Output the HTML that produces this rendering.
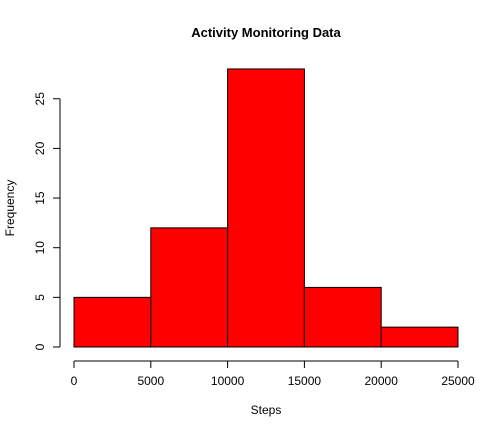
<!DOCTYPE html>
<html><head><meta charset="utf-8"><style>
body{margin:0;background:#fff}
svg{display:block;font-family:"Liberation Sans",Arial,sans-serif}
</style></head><body>
<svg id="chart" width="504" height="432" viewBox="0 0 504 432">
<text x="266" y="37" text-anchor="middle" font-size="13" font-weight="bold">Activity Monitoring Data</text>
<text x="266" y="414" text-anchor="middle" font-size="12">Steps</text>
<text x="14" y="208" text-anchor="middle" font-size="12" transform="rotate(-90 14 208)">Frequency</text>
<g id="bars"></g><g id="xaxis"></g><g id="yaxis"></g>
</svg>
<script>
const binEdges=[0,5000,10000,15000,20000,25000];
const counts=[5,12,28,6,2];
const xTicks=[0,5000,10000,15000,20000,25000];
const yTicks=[0,5,10,15,20,25];
const NS="http://www.w3.org/2000/svg";
function sx(v){return 74+v/25000*384;}
function sy(v){return 347-v*9.93;}
function mk(t,a,p){const e=document.createElementNS(NS,t);for(const k in a)e.setAttribute(k,a[k]);p.appendChild(e);return e;}
const bars=document.getElementById('bars');
counts.forEach((c,i)=>{
 const r=mk('rect',{x:sx(binEdges[i]),y:sy(c),width:sx(binEdges[i+1])-sx(binEdges[i]),height:sy(0)-sy(c),fill:'#ff0000',stroke:'#000','stroke-width':1},bars);
 
 
});
const xa=document.getElementById('xaxis');
const xl=mk('line',{x1:sx(xTicks[0]),x2:sx(xTicks[xTicks.length-1]),y1:361,y2:361,stroke:'#000'},xa);


xTicks.forEach(t=>{
 mk('line',{x1:sx(t),x2:sx(t),y1:361,y2:368,stroke:'#000'},xa);
 const tx=mk('text',{x:sx(t),y:385,'text-anchor':'middle','font-size':12},xa);tx.textContent=t;
 
 
});
const ya=document.getElementById('yaxis');
const yl=mk('line',{x1:60,x2:60,y1:sy(yTicks[0]),y2:sy(yTicks[yTicks.length-1]),stroke:'#000'},ya);


yTicks.forEach(t=>{
 mk('line',{x1:53,x2:60,y1:sy(t),y2:sy(t),stroke:'#000'},ya);
 const tx=mk('text',{x:44,y:sy(t),'text-anchor':'middle','font-size':12,transform:`rotate(-90 44 ${sy(t)})`},ya);tx.textContent=t;
 
 
});
</script>
</body></html>
